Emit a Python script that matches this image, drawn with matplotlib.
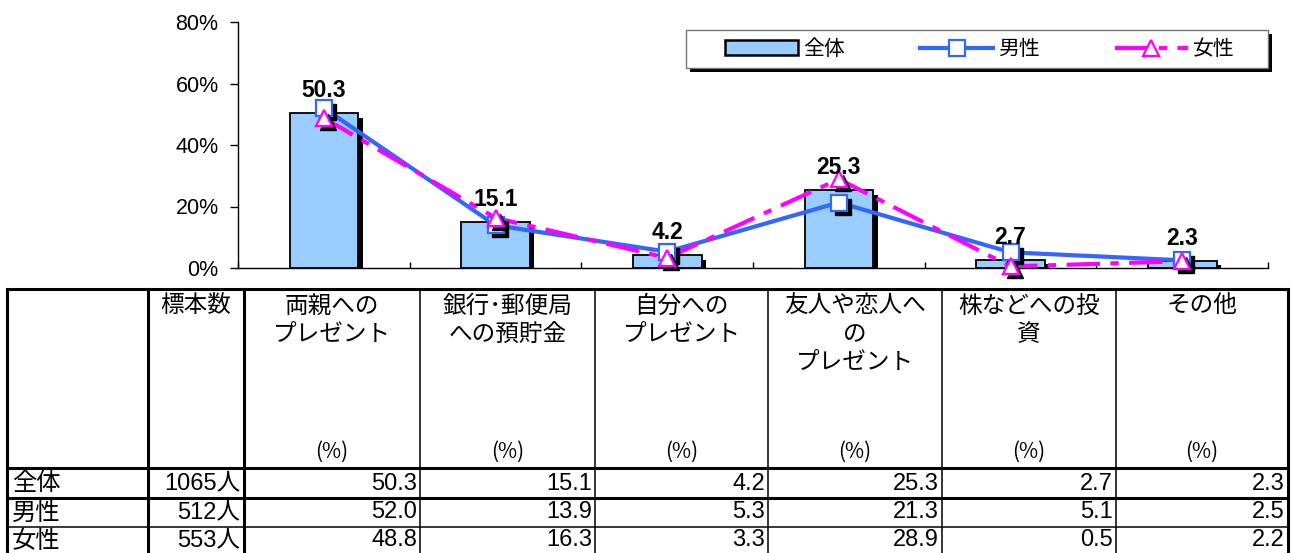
import matplotlib
matplotlib.use("Agg")
import matplotlib.pyplot as plt
from matplotlib.patches import Patch, Rectangle
from matplotlib.lines import Line2D
from matplotlib.transforms import offset_copy
import numpy as np

plt.rcParams['font.family'] = ['Liberation Sans', 'Noto Sans CJK JP', 'DejaVu Sans']

# ---------------- data ----------------
categories = ['両親へのプレゼント', '銀行・郵便局への預貯金', '自分へのプレゼント',
              '友人や恋人へのプレゼント', '株などへの投資', 'その他']
header_labels = ['標本数', '両親への\nプレゼント', '銀行･郵便局\nへの預貯金', '自分への\nプレゼント',
                 '友人や恋人へ\nの\nプレゼント', '株などへの投\n資', 'その他']
row_labels = ['全体', '男性', '女性']
sample_sizes = ['1065人', '512人', '553人']
total = [50.3, 15.1, 4.2, 25.3, 2.7, 2.3]
male = [52.0, 13.9, 5.3, 21.3, 5.1, 2.5]
female = [48.8, 16.3, 3.3, 28.9, 0.5, 2.2]
yticks = [0, 20, 40, 60, 80]

W, H = 1298, 553
fig = plt.figure(figsize=(W / 100, H / 100), dpi=100)

# ---------------- table (pixel coordinates overlay) ----------------
tax = fig.add_axes([0, 0, 1, 1])
tax.set_xlim(0, W)
tax.set_ylim(H, 0)
tax.axis('off')
tax.patch.set_visible(False)

col_edges = [7, 148, 244, 420, 595, 768, 942, 1116, 1288]
row_edges = [289, 468, 498, 527, 553]
thick = 2.2
thin = 1.1
tax.plot([col_edges[0], col_edges[-1]], [row_edges[0]] * 2, color='black', lw=thick, solid_capstyle='projecting')
tax.plot([col_edges[0], col_edges[-1]], [row_edges[1]] * 2, color='black', lw=thick)
tax.plot([col_edges[0], col_edges[-1]], [row_edges[2]] * 2, color='black', lw=thick)
tax.plot([col_edges[0], col_edges[-1]], [row_edges[3]] * 2, color='black', lw=thin)
for i, xx in enumerate(col_edges):
    lw = thick if i in (0, 1, 2, len(col_edges) - 1) else thin
    tax.plot([xx, xx], [row_edges[0], H + 2], color='black', lw=lw, solid_capstyle='projecting')

cjk = ['Noto Sans CJK JP', 'DejaVu Sans']
for j, lab in enumerate(header_labels):
    xc = (col_edges[j + 1] + col_edges[j + 2]) / 2
    for k, line in enumerate(lab.split('\n')):
        tax.text(xc, 306 + k * 28.5, line, ha='center', va='center', fontsize=17, family=cjk)
    if j > 0:
        tax.text(xc, 452, '(%)', ha='center', va='center', fontsize=15, family=cjk)

row_centers = [483.5, 512.5, 540.5]
series_rows = [total, male, female]
for r in range(3):
    yc = row_centers[r]
    tax.text(col_edges[0] + 5, yc, row_labels[r], ha='left', va='center', fontsize=17.5, family=cjk)
    tax.text(col_edges[2] - 4, yc, sample_sizes[r], ha='right', va='center', fontsize=17)
    for c, v in enumerate(series_rows[r]):
        tax.text(col_edges[c + 3] - 3, yc, f'{v:.1f}', ha='right', va='center', fontsize=17)

# legend frame with shadow (pixel coords)
tax.add_patch(Rectangle((690, 34), 582, 38, facecolor='black', edgecolor='none', zorder=1))
tax.add_patch(Rectangle((686, 30), 582, 38, facecolor='white', edgecolor='0.45', lw=1, zorder=2))

# ---------------- chart ----------------
ax = fig.add_axes([238 / W, 1 - 268 / H, (1268 - 238) / W, (268 - 22) / H])
x = np.arange(len(categories))
ax.set_xlim(-0.5, len(categories) - 0.5)
ax.set_ylim(0, 80)

shadow_t = offset_copy(ax.transData, fig=fig, x=4.5, y=-4.5, units='dots')
mshadow_t = offset_copy(ax.transData, fig=fig, x=4, y=-4, units='dots')

ax.bar(x, total, width=0.4, color='black', transform=shadow_t, zorder=1)
ax.bar(x, total, width=0.4, color='#99CCFF', edgecolor='black', linewidth=1.3, zorder=2)

blue = '#3366FF'
mag = '#FF00FF'
ax.plot(x, male, color=blue, lw=3, zorder=3)
fl, = ax.plot(x, female, color=mag, lw=3, zorder=4)
fl.set_dashes([8, 2.5, 2, 2.5])
ax.plot(x, male, ls='none', marker='s', ms=11, color='black', transform=mshadow_t, zorder=5, clip_on=False)
ax.plot(x, male, ls='none', marker='s', ms=11, mfc='white', mec=blue, mew=1.6, zorder=6, clip_on=False)
ax.plot(x, female, ls='none', marker='^', ms=12, color='black', transform=mshadow_t, zorder=7, clip_on=False)
ax.plot(x, female, ls='none', marker='^', ms=12, mfc='white', mec=mag, mew=1.6, zorder=8, clip_on=False)

for xi, v in zip(x, total):
    ax.annotate(f'{v:.1f}', (xi, v), xytext=(0, 11.5), textcoords='offset points',
                ha='center', va='baseline', fontsize=16.5, fontweight='bold', zorder=10)

for s in ['top', 'right']:
    ax.spines[s].set_visible(False)
ax.spines['left'].set_linewidth(1)
ax.spines['bottom'].set_linewidth(1)
ax.set_yticks(yticks)
ax.set_yticklabels([f'{t}%' for t in yticks], fontsize=15.5)
ax.tick_params(axis='y', direction='out', length=6, width=1, pad=8)
ax.set_xticks(np.arange(-0.5, len(categories), 1.0))
ax.set_xticklabels([])
ax.tick_params(axis='x', direction='in', length=4, width=1)
ax.patch.set_visible(False)

handles = [Patch(facecolor='#99CCFF', edgecolor='black', linewidth=1.8),
           Line2D([], [], color=blue, lw=3, marker='s', ms=11, mfc='white', mec=blue, mew=1.6),
           Line2D([], [], color=mag, lw=3, marker='^', ms=12, mfc='white', mec=mag, mew=1.6,
                  dashes=[8, 2.5, 2, 2.5])]
leg = ax.legend(handles, row_labels, ncol=3,
                bbox_to_anchor=(980 / W, 1 - 49 / H),
                bbox_transform=fig.transFigure, loc='center', borderaxespad=0,
                frameon=False, borderpad=0.2, handlelength=3.5,
                handletextpad=0.25, columnspacing=3.6, prop={'family': cjk, 'size': 15})
leg.set_zorder(20)

fig.savefig('out.png', dpi=100)
